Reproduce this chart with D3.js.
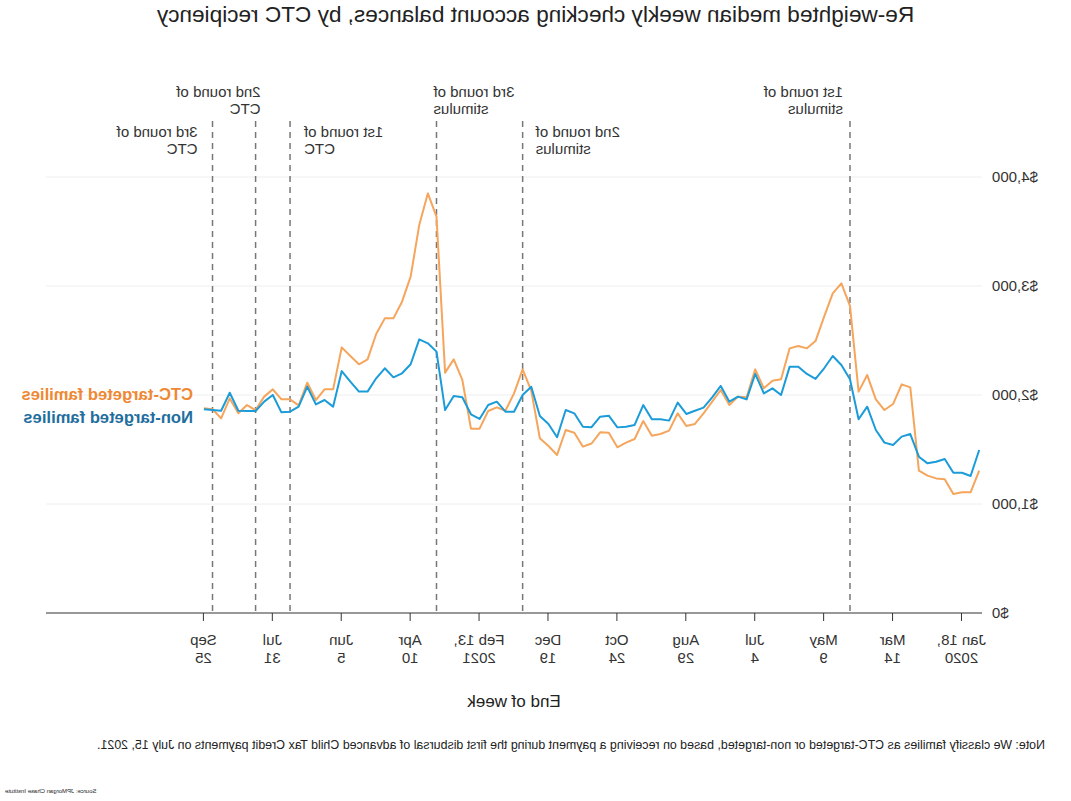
<!DOCTYPE html>
<html>
<head>
<meta charset="utf-8">
<script src="https://cdn.jsdelivr.net/npm/d3@7"></script>
<style>
  html, body { margin: 0; padding: 0; background: #fff; }
  svg { display: block; font-family: "Liberation Sans", Arial, sans-serif; }
</style>
</head>
<body>
<svg id="chart" width="1071" height="801"></svg>
<script>
// ---------------- data ----------------
const firstWeek = "2020-01-04";   // week ending dates, weekly
const ctcTargeted = [1306,1107,1107,1092,1226,1235,1260,1306,2070,2098,
  1917,1862,1960,2183,2031,2817,3024,2933,2719,2495,
  2428,2450,2428,2144,2131,2061,2235,1979,1985,1908,
  2046,1939,1832,1734,1716,1832,1673,1642,1627,1761,
  1596,1563,1520,1654,1658,1555,1526,1654,1679,1450,
  1532,1603,2040,2235,2015,1856,1887,1853,1691,1691,
  2138,2327,2205,3636,3850,3560,3086,2856,2703,2703,
  2560,2327,2282,2358,2437,2052,2052,1954,2113,1905,
  1960,1960,2052,1985,1862,1908,1832,1969,1786,1869,1878];
const nonTargeted = [1495,1257,1287,1287,1413,1388,1373,1434,1642,1618,
  1541,1563,1679,1893,1777,2144,2275,2358,2245,2147,
  2193,2260,2260,2000,2061,2015,2193,1960,1985,1939,
  2083,1979,1884,1856,1826,1930,1765,1777,1777,1908,
  1725,1709,1703,1810,1801,1705,1709,1832,1862,1612,
  1734,1807,2076,2000,1847,1847,1939,1908,1780,1823,
  1979,1991,1862,2398,2474,2511,2282,2199,2162,2245,
  2153,2031,2031,2122,2220,1893,1954,1914,2076,1893,
  1847,1841,2000,1939,1853,1853,1856,2021,1856,1862,1869];
const seriesNames = ["CTC-targeted families", "Non-targeted families"];

const xTickDates = ["2020-01-18","2020-03-14","2020-05-09","2020-07-04","2020-08-29","2020-10-24",
  "2020-12-19","2021-02-13","2021-04-10","2021-06-05","2021-07-31","2021-09-25"];
const xTickLabels = [["Jan 18,","2020"],["Mar","14"],["May","9"],["Jul","4"],["Aug","29"],["Oct","24"],
  ["Dec","19"],["Feb 13,","2021"],["Apr","10"],["Jun","5"],["Jul","31"],["Sep","25"]];
const yTicks = [0, 1000, 2000, 3000, 4000];

const eventDates = ["2020-04-18","2021-01-09","2021-03-20","2021-07-17","2021-08-14","2021-09-18"];
const eventLabels = [["1st round of","stimulus"],["2nd round of","stimulus"],["3rd round of","stimulus"],
  ["1st round of","CTC"],["2nd round of","CTC"],["3rd round of","CTC"]];

const titleText = "Re-weighted median weekly checking account balances, by CTC recipiency";
const xAxisTitle = "End of week";
const noteText = "Note: We classify families as CTC-targeted or non-targeted, based on receiving a payment during the first disbursal of advanced Child Tax Credit payments on July 15, 2021.";
const sourceText = "Source: JPMorgan Chase Institute";

// ---------------- layout ----------------
const W = 1071, H = 801;
const colors = { ctcLine: "#F5A55C", nonLine: "#1B9CD8", ctcText: "#EE8833", nonText: "#1F6E9E" };
// annotation placement: row (0 = upper, 1 = lower), anchor, horizontal offset from line
const eventLayout = [
  {row:0, anchor:"start", dx:7}, {row:1, anchor:"end", dx:-13}, {row:0, anchor:"end", dx:3},
  {row:1, anchor:"end", dx:-14}, {row:0, anchor:"start", dx:-5}, {row:1, anchor:"start", dx:15}
];

const parse = d3.timeParse("%Y-%m-%d");
const start = parse(firstWeek);
const dates = ctcTargeted.map((_, i) => d3.timeWeek.offset(start, i));

const x = d3.scaleTime().domain([dates[0], dates[dates.length - 1]]).range([91.8, 867.1]);
const y = d3.scaleLinear().domain([0, 4000]).range([613, 177]);
const plotLeft = 89, plotRight = 1025;

const svg = d3.select("#chart");
// the reference is a horizontally mirrored picture
const root = svg.append("g").attr("transform", `translate(${W},0) scale(-1,1)`);

// title
root.append("text").attr("x", W / 2).attr("y", 22).attr("text-anchor", "middle")
  .attr("font-size", 22.6).attr("fill", "#222").text(titleText);

// gridlines
root.append("g").selectAll("line").data(yTicks.filter(d => d > 0)).join("line")
  .attr("x1", plotLeft).attr("x2", plotRight)
  .attr("y1", d => y(d)).attr("y2", d => y(d))
  .attr("stroke", "#eeeeee").attr("stroke-width", 1);

// y labels
root.append("g").selectAll("text").data(yTicks).join("text")
  .attr("x", 79).attr("y", d => y(d)).attr("dy", "0.35em")
  .attr("text-anchor", "end").attr("font-size", 15).attr("fill", "#333")
  .text(d => d3.format("$,")(d));

// x axis
const xAxis = d3.axisBottom(x).tickValues(xTickDates.map(parse)).tickSize(8).tickFormat("");
const gx = root.append("g").attr("transform", `translate(0,${y(0)})`).call(xAxis);
gx.select(".domain").remove();
gx.selectAll(".tick line").attr("stroke", "#333");
gx.append("line").attr("x1", plotLeft).attr("x2", plotRight).attr("y1", 0).attr("y2", 0)
  .attr("stroke", "#333").attr("stroke-width", 1.2);
gx.selectAll(".tick").each(function(d, i) {
  const t = d3.select(this).append("text").attr("fill", "#333").attr("font-size", 15)
    .attr("text-anchor", "middle");
  t.append("tspan").attr("x", 0).attr("y", 32).text(xTickLabels[i][0]);
  t.append("tspan").attr("x", 0).attr("y", 50).text(xTickLabels[i][1]);
});

// x axis title
root.append("text").attr("x", (plotLeft + plotRight) / 2).attr("y", 707).attr("text-anchor", "middle")
  .attr("font-size", 17).attr("fill", "#222").text(xAxisTitle);

// event lines and labels
const ev = root.append("g").selectAll("g").data(eventDates).join("g");
ev.append("line")
  .attr("x1", d => x(parse(d))).attr("x2", d => x(parse(d)))
  .attr("y1", 121).attr("y2", y(0))
  .attr("stroke", "#777").attr("stroke-width", 1.5).attr("stroke-dasharray", "6,5");
ev.each(function(d, i) {
  const L = eventLayout[i];
  const base = L.row === 0 ? 97 : 137;
  const t = d3.select(this).append("text").attr("font-size", 15).attr("fill", "#333")
    .attr("text-anchor", L.anchor);
  eventLabels[i].forEach((s, j) => {
    t.append("tspan").attr("x", x(parse(d)) + L.dx).attr("y", base + j * 16.5).text(s);
  });
});

// lines
const line = d3.line().x((d, i) => x(dates[i])).y(d => y(d));
root.append("path").datum(ctcTargeted).attr("d", line).attr("fill", "none")
  .attr("stroke", colors.ctcLine).attr("stroke-width", 2).attr("stroke-linejoin", "round");
root.append("path").datum(nonTargeted).attr("d", line).attr("fill", "none")
  .attr("stroke", colors.nonLine).attr("stroke-width", 2).attr("stroke-linejoin", "round");

// direct labels
root.append("text").attr("x", 878).attr("y", 400).attr("font-size", 16.6).attr("font-weight", "bold")
  .attr("fill", colors.ctcText).text(seriesNames[0]);
root.append("text").attr("x", 878).attr("y", 423).attr("font-size", 16.6).attr("font-weight", "bold")
  .attr("fill", colors.nonText).text(seriesNames[1]);

// note and source
root.append("text").attr("x", 26).attr("y", 749).attr("font-size", 12.4).attr("fill", "#222").text(noteText);
root.append("text").attr("x", 1066).attr("y", 793).attr("text-anchor", "end")
  .attr("font-size", 6).attr("fill", "#222").text(sourceText);
</script>
</body>
</html>
